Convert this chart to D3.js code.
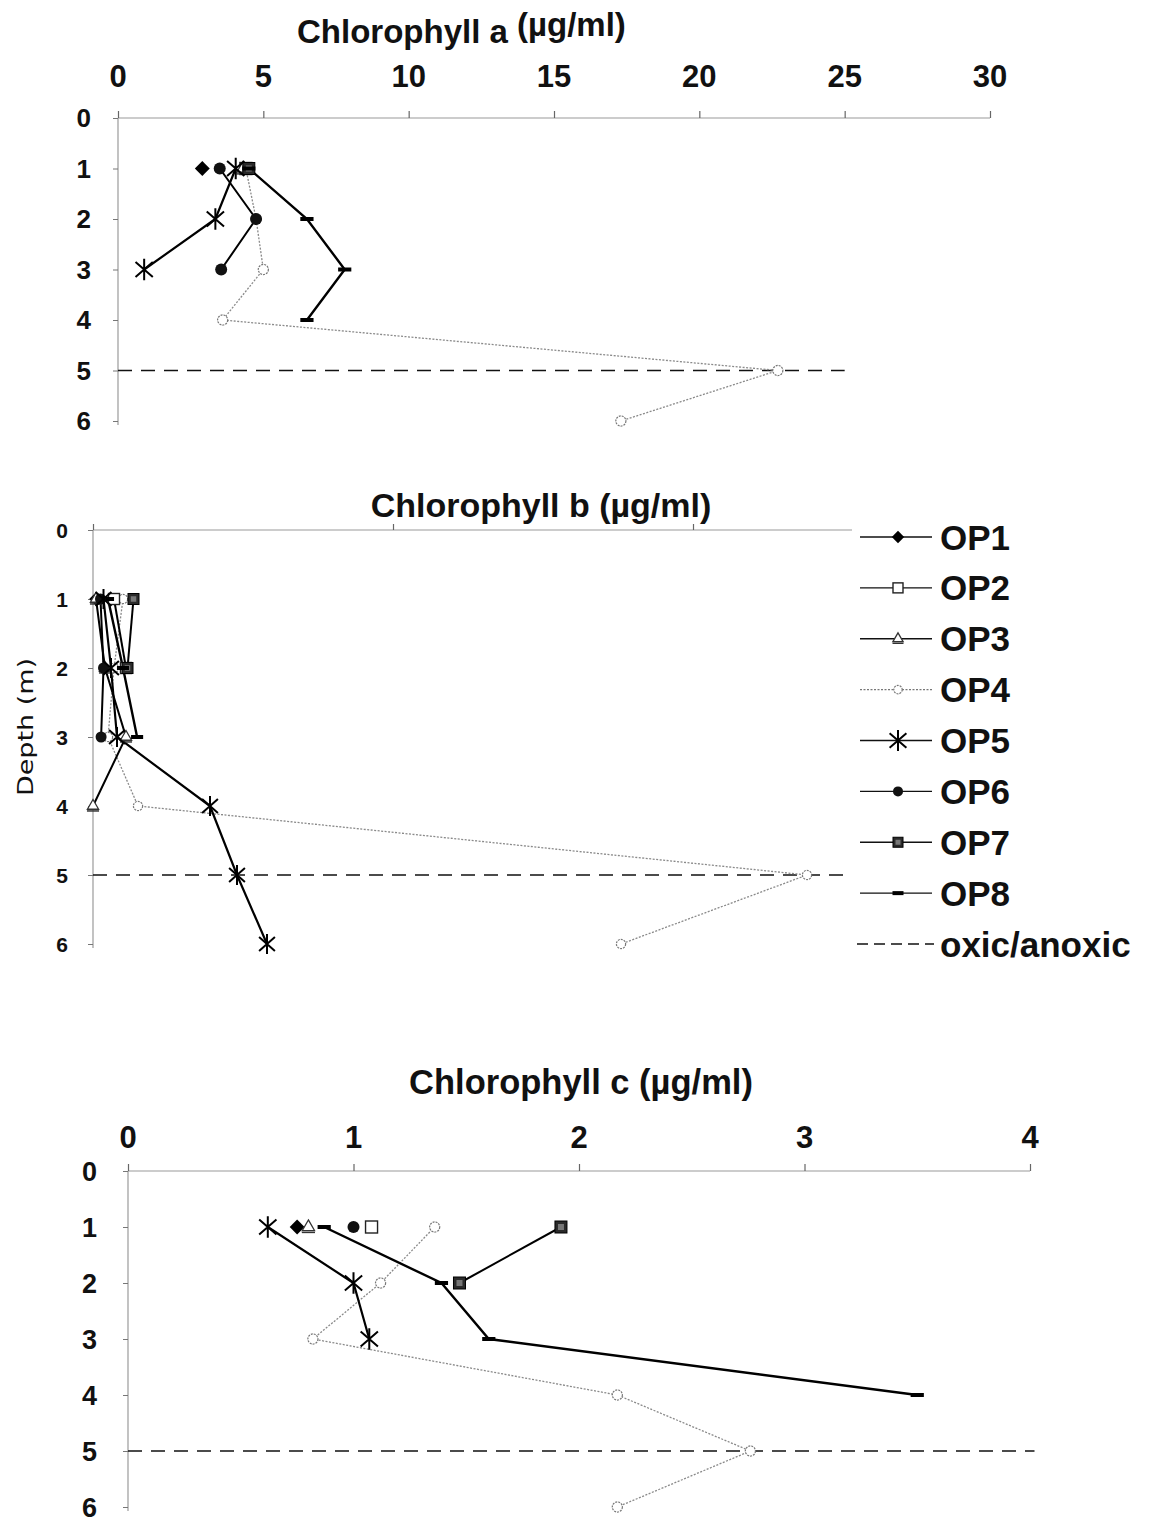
<!DOCTYPE html>
<html>
<head>
<meta charset="utf-8">
<script src="https://cdn.jsdelivr.net/npm/d3@7"></script>
<style>
  html, body { margin: 0; padding: 0; background: #fff; }
  svg { display: block; font-family: "Liberation Sans", Arial, sans-serif; }
</style>
</head>
<body>
<svg id="chart" width="1154" height="1522"></svg>
<script>
// Depth levels (m) sampled at each station
const depthLevels = [1, 2, 3, 4, 5, 6];
const depthTicks = [0, 1, 2, 3, 4, 5, 6];
const stations = ["OP1", "OP2", "OP3", "OP4", "OP5", "OP6", "OP7", "OP8"];
const oxicDepth = 5;

// Chlorophyll a (µg/ml) per station, indexed by depthLevels (null = not sampled)
const chlA_OP1 = [2.9, null, null, null, null, null];
const chlA_OP2 = [4.4, null, null, null, null, null];
const chlA_OP3 = [4.3, null, null, null, null, null];
const chlA_OP4 = [4.4, 4.75, 5.0, 3.6, 22.7, 17.3];
const chlA_OP5 = [4.05, 3.35, 0.9, null, null, null];
const chlA_OP6 = [3.5, 4.75, 3.55, null, null, null];
const chlA_OP7 = [4.5, null, null, null, null, null];
const chlA_OP8 = [4.5, 6.5, 7.8, 6.5, null, null];
const chlATicks = [0, 5, 10, 15, 20, 25, 30];

// Chlorophyll b (µg/ml)
const chlB_OP1 = [0.01, null, null, null, null, null];
const chlB_OP2 = [0.07, 0.11, null, null, null, null];
const chlB_OP3 = [0.01, 0.04, 0.11, 0.0, null, null];
const chlB_OP4 = [0.1, 0.07, 0.05, 0.15, 2.38, 1.76];
const chlB_OP5 = [0.035, 0.06, 0.08, 0.39, 0.48, 0.58];
const chlB_OP6 = [0.025, 0.035, 0.027, null, null, null];
const chlB_OP7 = [0.135, 0.115, null, null, null, null];
const chlB_OP8 = [0.05, 0.1, 0.147, null, null, null];
const chlBTicks = [0, 1, 2, 3];

// Chlorophyll c (µg/ml)
const chlC_OP1 = [0.75, null, null, null, null, null];
const chlC_OP2 = [1.08, null, null, null, null, null];
const chlC_OP3 = [0.8, null, null, null, null, null];
const chlC_OP4 = [1.36, 1.12, 0.82, 2.17, 2.76, 2.17];
const chlC_OP5 = [0.62, 1.0, 1.07, null, null, null];
const chlC_OP6 = [1.0, null, null, null, null, null];
const chlC_OP7 = [1.92, 1.47, null, null, null, null];
const chlC_OP8 = [0.87, 1.39, 1.6, 3.5, null, null];
const chlCTicks = [0, 1, 2, 3, 4];

const svg = d3.select("#chart");
const AXIS_GREY = "#9a9a9a";
const NARROW = "'Liberation Sans Narrow', 'Arial Narrow', 'Liberation Sans', sans-serif";

// Line and marker style per station
const styleOf = {
  OP1: { stroke: "#000", width: 2, dash: null, marker: "diamond" },
  OP2: { stroke: "#000", width: 2, dash: null, marker: "square-open" },
  OP3: { stroke: "#000", width: 2, dash: null, marker: "triangle" },
  OP4: { stroke: "#8a8a8a", width: 1.3, dash: "2,1.5", marker: "circle-open" },
  OP5: { stroke: "#000", width: 2.2, dash: null, marker: "asterisk" },
  OP6: { stroke: "#000", width: 2, dash: null, marker: "circle" },
  OP7: { stroke: "#000", width: 2, dash: null, marker: "square" },
  OP8: { stroke: "#000", width: 2.4, dash: null, marker: "bar" }
};

function drawMarker(g, type, x, y, s) {
  const m = g.append("g").attr("transform", `translate(${x},${y})`);
  switch (type) {
    case "diamond": {
      const r = s * 0.62;
      m.append("path").attr("d", `M0,${-r}L${r},0L0,${r}L${-r},0Z`).attr("fill", "#000");
      break;
    }
    case "square-open":
      m.append("rect").attr("x", -s / 2).attr("y", -s / 2).attr("width", s).attr("height", s)
        .attr("fill", "#fff").attr("stroke", "#222").attr("stroke-width", 1.4);
      break;
    case "triangle":
      m.append("path").attr("d", d3.symbol(d3.symbolTriangle, s * s * 0.45)())
        .attr("fill", "#fff").attr("stroke", "#333").attr("stroke-width", 1.3);
      m.append("line").attr("x1", -s * 0.55).attr("x2", s * 0.55).attr("y1", s * 0.45).attr("y2", s * 0.45)
        .attr("stroke", "#333").attr("stroke-width", 1.5);
      break;
    case "circle-open":
      m.append("circle").attr("r", s * 0.42).attr("fill", "#fff")
        .attr("stroke", "#777").attr("stroke-width", 1.2).attr("stroke-dasharray", "2,1");
      break;
    case "asterisk": {
      const r = s * 0.75;
      m.append("path")
        .attr("d", `M0,${-r}L0,${r}M${-r * 0.8},${-r * 0.7}L${r * 0.8},${r * 0.7}M${-r * 0.8},${r * 0.7}L${r * 0.8},${-r * 0.7}`)
        .attr("stroke", "#000").attr("stroke-width", 2).attr("fill", "none");
      break;
    }
    case "circle":
      m.append("circle").attr("r", s * 0.5).attr("fill", "#111");
      break;
    case "square":
      m.append("rect").attr("x", -s / 2).attr("y", -s / 2).attr("width", s).attr("height", s)
        .attr("fill", "#2a2a2a").attr("stroke", "#000").attr("stroke-width", 1);
      m.append("rect").attr("x", -s / 4).attr("y", -s / 4).attr("width", s / 2).attr("height", s / 2)
        .attr("fill", "#777");
      break;
    case "bar":
      m.append("rect").attr("x", -s * 0.55).attr("y", -2).attr("width", s * 1.1).attr("height", 4)
        .attr("fill", "#000");
      break;
  }
}

function drawPanel(cfg) {
  const g = svg.append("g");
  const x = d3.scaleLinear().domain(cfg.xDomain).range(cfg.xRange);
  const y = d3.scaleLinear().domain([0, 6]).range(cfg.yRange);

  // top axis with upward ticks
  const xAxis = d3.axisTop(x).tickValues(cfg.xTicks).tickSize(cfg.tickUp).tickFormat("");
  const ax = g.append("g").attr("transform", `translate(0,${cfg.yRange[0]})`).call(xAxis);
  ax.select(".domain").attr("stroke", AXIS_GREY).attr("stroke-width", 1.2)
    .attr("d", `M${cfg.xRange[0]},0H${cfg.xRange[1]}`);
  ax.selectAll(".tick line").attr("stroke", "#666").attr("stroke-width", 1.2);

  if (cfg.showTickLabels) {
    g.append("g").selectAll("text").data(cfg.xTicks).join("text")
      .attr("x", d => x(d)).attr("y", cfg.tickLabelY)
      .attr("text-anchor", "middle").attr("font-weight", "bold")
      .attr("font-family", NARROW)
      .attr("font-size", cfg.tickFont).attr("fill", "#111")
      .text(d => d);
  }

  // left depth axis
  const yAxis = d3.axisLeft(y).tickValues(depthTicks).tickSize(5).tickFormat("");
  const ay = g.append("g").attr("transform", `translate(${cfg.xRange[0]},0)`).call(yAxis);
  ay.select(".domain").attr("stroke", AXIS_GREY).attr("stroke-width", 1.2)
    .attr("d", `M0,${cfg.yRange[0]}V${cfg.yRange[1] + 4}`);
  ay.selectAll(".tick line").attr("stroke", "#777");
  g.append("g").selectAll("text").data(depthTicks).join("text")
    .attr("x", cfg.depthLabelX).attr("y", d => y(d))
    .attr("dy", "0.36em").attr("text-anchor", "end")
    .attr("font-weight", "bold").attr("font-family", NARROW)
    .attr("font-size", cfg.depthFont).attr("fill", "#111")
    .text(d => d);

  // title
  const t = g.append("text").attr("x", cfg.titleX).attr("y", cfg.titleY)
    .attr("text-anchor", cfg.raisedUnit ? "start" : "middle").attr("font-weight", "bold")
    .attr("font-size", cfg.titleFont).attr("fill", "#111");
  if (cfg.raisedUnit) {
    t.append("tspan").text(cfg.title + " ");
    t.append("tspan").attr("dy", -7).attr("font-size", cfg.titleFont).text("(\u00b5g/ml)");
  } else {
    t.text(cfg.title + " (\u00b5g/ml)");
  }

  // oxic/anoxic boundary
  g.append("line")
    .attr("x1", cfg.xRange[0]).attr("x2", x(cfg.oxicEnd))
    .attr("y1", y(oxicDepth)).attr("y2", y(oxicDepth))
    .attr("stroke", "#111").attr("stroke-width", 1.6).attr("stroke-dasharray", "14,9");

  // station profiles
  const line = d3.line()
    .defined(d => d.v != null)
    .x(d => x(d.v)).y(d => y(d.depth));

  const order = ["OP4", "OP1", "OP2", "OP3", "OP7", "OP8", "OP6", "OP5"];
  order.forEach(name => {
    const vals = cfg.series[name];
    const pts = depthLevels.map((depth, i) => ({ depth, v: vals[i] }));
    const st = styleOf[name];
    g.append("path").datum(pts).attr("d", line)
      .attr("fill", "none").attr("stroke", st.stroke).attr("stroke-width", st.width)
      .attr("stroke-dasharray", st.dash);
  });
  order.forEach(name => {
    const vals = cfg.series[name];
    const st = styleOf[name];
    depthLevels.forEach((depth, i) => {
      if (vals[i] == null) return;
      const sz = st.marker === "asterisk" ? cfg.markerSize * 1.2 : cfg.markerSize;
      drawMarker(g, st.marker, x(vals[i]), y(depth), sz);
    });
  });
}

drawPanel({
  title: "Chlorophyll a", raisedUnit: true, titleX: 297, titleY: 43, titleFont: 33,
  xDomain: [0, 30], xRange: [118, 990], xTicks: chlATicks, tickUp: 7,
  showTickLabels: true, tickLabelY: 87, tickFont: 31,
  yRange: [118, 421], depthLabelX: 91, depthFont: 26,
  oxicEnd: 25, markerSize: 12,
  series: { OP1: chlA_OP1, OP2: chlA_OP2, OP3: chlA_OP3, OP4: chlA_OP4,
            OP5: chlA_OP5, OP6: chlA_OP6, OP7: chlA_OP7, OP8: chlA_OP8 }
});

drawPanel({
  title: "Chlorophyll b", titleX: 541, titleY: 517, titleFont: 34,
  xDomain: [0, 3], xRange: [93, 993], xTicks: chlBTicks, tickUp: 6,
  showTickLabels: false,
  yRange: [530, 944], depthLabelX: 68, depthFont: 21,
  oxicEnd: 2.6, markerSize: 11,
  series: { OP1: chlB_OP1, OP2: chlB_OP2, OP3: chlB_OP3, OP4: chlB_OP4,
            OP5: chlB_OP5, OP6: chlB_OP6, OP7: chlB_OP7, OP8: chlB_OP8 }
});

drawPanel({
  title: "Chlorophyll c", titleX: 581, titleY: 1094, titleFont: 34.5,
  xDomain: [0, 4], xRange: [128, 1030], xTicks: chlCTicks, tickUp: 7,
  showTickLabels: true, tickLabelY: 1148, tickFont: 31,
  yRange: [1171, 1507], depthLabelX: 97, depthFont: 27,
  oxicEnd: 4.02, markerSize: 12,
  series: { OP1: chlC_OP1, OP2: chlC_OP2, OP3: chlC_OP3, OP4: chlC_OP4,
            OP5: chlC_OP5, OP6: chlC_OP6, OP7: chlC_OP7, OP8: chlC_OP8 }
});

// shared depth label
svg.append("text")
  .attr("transform", "translate(33,727) rotate(-90)")
  .attr("text-anchor", "middle").attr("font-family", "DejaVu Sans, sans-serif")
  .attr("font-size", 22).attr("fill", "#111")
  .attr("textLength", 138).attr("lengthAdjust", "spacingAndGlyphs")
  .text("Depth (m)");

// legend
const legend = svg.append("g");
legend.append("rect").attr("x", 852).attr("y", 512).attr("width", 302).attr("height", 460).attr("fill", "#fff");
const legY = d3.scalePoint().domain([...stations, "oxic/anoxic"]).range([537, 944]);
stations.forEach(name => {
  const st = styleOf[name];
  const yy = legY(name);
  legend.append("line").attr("x1", 860).attr("x2", 932).attr("y1", yy).attr("y2", yy)
    .attr("stroke", name === "OP4" ? "#777" : "#111").attr("stroke-width", 1.4)
    .attr("stroke-dasharray", st.dash);
  drawMarker(legend, st.marker, 898, yy, st.marker === "asterisk" ? 14 : 10);
  legend.append("text").attr("x", 940).attr("y", yy).attr("dy", "0.36em")
    .attr("font-weight", "bold").attr("font-size", 35).attr("fill", "#111").text(name);
});
const oy = legY("oxic/anoxic");
legend.append("line").attr("x1", 857).attr("x2", 934).attr("y1", oy).attr("y2", oy)
  .attr("stroke", "#111").attr("stroke-width", 1.6).attr("stroke-dasharray", "11,6");
legend.append("text").attr("x", 940).attr("y", oy).attr("dy", "0.36em")
  .attr("font-weight", "bold").attr("font-size", 35).attr("fill", "#111").text("oxic/anoxic");
</script>
</body>
</html>
